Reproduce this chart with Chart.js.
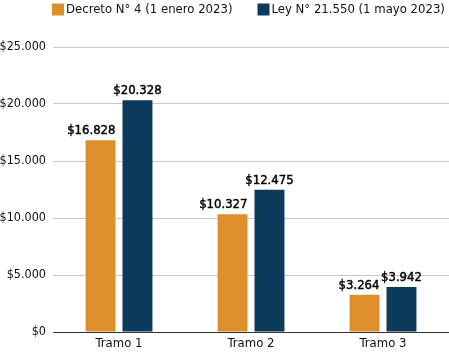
<!DOCTYPE html>
<html>
<head>
<meta charset="utf-8">
<script src="https://cdn.jsdelivr.net/npm/chart.js@4"></script>
<style>
  html, body { margin: 0; padding: 0; background: #fff; }
  #wrap { width: 449px; height: 354px; }
</style>
</head>
<body>
<div id="wrap"><canvas id="chart"></canvas></div>
<script>
const categories = ['Tramo 1', 'Tramo 2', 'Tramo 3'];
const decreto = [16828, 10327, 3264];
const ley = [20328, 12475, 3942];
const seriesNames = ['Decreto N° 4 (1 enero 2023)', 'Ley N° 21.550 (1 mayo 2023)'];
const seriesColors = ['#DE8F2B', '#0B3A5A'];

const FONT = '"DejaVu Sans Condensed", "DejaVu Sans", sans-serif';

function fmt(v) {
  return '$' + v.toLocaleString('de-DE');
}

// values above the bars (orange ones hug the right edge like the original)
const valueLabels = {
  id: 'valueLabels',
  afterDatasetsDraw(chart) {
    const ctx = chart.ctx;
    ctx.save();
    ctx.font = '13px ' + FONT;
    ctx.fillStyle = '#000';
    ctx.strokeStyle = '#000';
    ctx.lineWidth = 0.45;
    ctx.textBaseline = 'alphabetic';
    chart.data.datasets.forEach((ds, i) => {
      chart.getDatasetMeta(i).data.forEach((bar, j) => {
        const txt = fmt(ds.data[j]);
        let x = bar.x;
        if (i === 0) {
          ctx.textAlign = 'right';
          x = bar.x + bar.width / 2;
        } else {
          ctx.textAlign = 'center';
        }
        ctx.fillText(txt, x, bar.y - 6);
        ctx.strokeText(txt, x, bar.y - 6);
      });
    });
    ctx.restore();
  }
};

// single-line legend at the top
const topLegend = {
  id: 'topLegend',
  afterDraw(chart) {
    const ctx = chart.ctx;
    ctx.save();
    ctx.font = '13px ' + FONT;
    ctx.textBaseline = 'middle';
    ctx.textAlign = 'left';
    let x = 52;
    const y = 9.5;
    seriesNames.forEach((name, i) => {
      ctx.fillStyle = seriesColors[i];
      ctx.fillRect(x, y - 6, 12, 12);
      ctx.fillStyle = '#111';
      ctx.fillText(name, x + 14, y);
      x += 14 + ctx.measureText(name).width + 25;
    });
    ctx.restore();
  }
};

new Chart(document.getElementById('chart'), {
  type: 'bar',
  data: {
    labels: categories,
    datasets: [
      { label: seriesNames[0], data: decreto, backgroundColor: seriesColors[0] },
      { label: seriesNames[1], data: ley, backgroundColor: seriesColors[1] }
    ]
  },
  options: {
    responsive: true,
    maintainAspectRatio: false,
    animation: false,
    categoryPercentage: 0.56,
    barPercentage: 0.81,
    layout: { padding: { left: 0, right: 0, top: 47, bottom: 0 } },
    plugins: {
      legend: { display: false },
      tooltip: { enabled: false }
    },
    scales: {
      x: {
        grid: { display: false, drawTicks: false },
        border: { color: '#333', width: 1 },
        ticks: { color: '#111', font: { family: FONT, size: 13 }, padding: 4 },
        afterFit: s => { s.height = 22; }
      },
      y: {
        min: 0,
        max: 25000,
        ticks: {
          stepSize: 5000,
          color: '#111',
          font: { family: FONT, size: 12.5 },
          padding: 7,
          callback: v => fmt(v)
        },
        grid: { color: '#c8c8c8', drawTicks: false },
        border: { display: false },
        afterFit: s => { s.width = 53; }
      }
    }
  },
  plugins: [valueLabels, topLegend]
});
</script>
</body>
</html>
